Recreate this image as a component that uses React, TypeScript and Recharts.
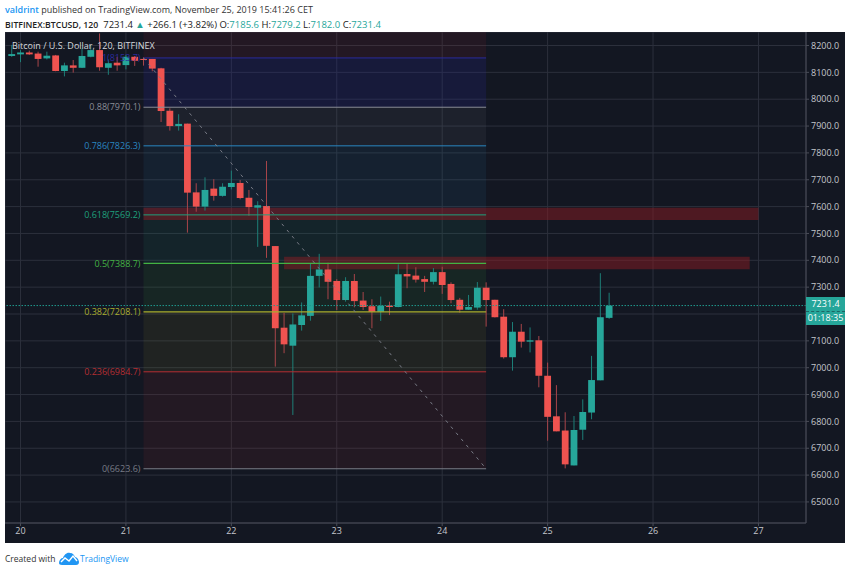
import React from 'react';
import {
  ComposedChart,
  Bar,
  XAxis,
  YAxis,
  CartesianGrid,
  ReferenceArea,
  ReferenceLine,
  ReferenceDot,
} from 'recharts';

// 2h candles, slot 0 is Nov 20 00:00
const opens = [8161, 8167, 8174, 8170, 8152, 8163, 8105, 8126, 8117, 8158, 8183, 8117, 8136, 8127, 8158, 8150, 8150, 8115, 7957, 7900, 7909, 7653, 7600, 7667, 7640, 7673, 7688, 7633, 7596, 7602, 7453, 7149, 7082, 7159, 7193, 7342, 7366, 7323, 7252, 7323, 7250, 7229, 7208, 7231, 7226, 7349, 7343, 7330, 7320, 7356, 7312, 7253, 7216, 7224, 7298, 7253, 7190, 7039, 7134, 7097, 7102, 6970, 6819, 6766, 6636, 6769, 6833, 6953, 7185.6];
const highs = [8202, 8183, 8181, 8177, 8177, 8165, 8136, 8146, 8189, 8202, 8245, 8148, 8158, 8165, 8161, 8156, 8150, 8117, 7966, 7944, 7909, 7687, 7709, 7702, 7687, 7734, 7699, 7662, 7620, 7770, 7453, 7204, 7202, 7243, 7389, 7424, 7391, 7330, 7337, 7349, 7282, 7255, 7265, 7246, 7385, 7389, 7374, 7342, 7371, 7376, 7318, 7260, 7271, 7319, 7318, 7253, 7218, 7170, 7163, 7150, 7118, 7019, 6935, 6834, 6820, 6882, 7044, 7352, 7279.2];
const lows = [8158, 8138, 8165, 8121, 8148, 8104, 8085, 8099, 8116, 8156, 8106, 8091, 8106, 8111, 8124, 8125, 8104, 7915, 7883, 7883, 7503, 7581, 7585, 7622, 7637, 7664, 7627, 7566, 7450, 7409, 7004, 7054, 6824, 7138, 7175, 7299, 7255, 7215, 7246, 7225, 7215, 7147, 7174, 7196, 7225, 7296, 7317, 7282, 7310, 7275, 7240, 7205, 7215, 7216, 7153, 7187, 7034, 6989, 7075, 7057, 6927, 6728, 6763, 6625, 6636, 6731, 6808, 6953, 7182];
const closes = [8168, 8174, 8167, 8150, 8162, 8105, 8126, 8117, 8161, 8183, 8119, 8134, 8126, 8158, 8143, 8146, 8114, 7956, 7900, 7908, 7652, 7600, 7662, 7640, 7674, 7688, 7632, 7598, 7605, 7454, 7147, 7087, 7161, 7195, 7342, 7366, 7320, 7252, 7323, 7248, 7226, 7208, 7231, 7226, 7348, 7340, 7328, 7320, 7356, 7308, 7252, 7216, 7226, 7298, 7252, 7188, 7039, 7134, 7097, 7102, 6970, 6817, 6763, 6640, 6768, 6835, 6954, 7188, 7231.4];
const firstSlot = -1;

const dayTicks = [0, 12, 24, 36, 48, 60, 72, 84];
const dayLabels = ['20', '21', '22', '23', '24', '25', '26', '27'];
const priceTicks = [8200, 8100, 8000, 7900, 7800, 7700, 7600, 7500, 7400, 7300, 7200, 7100, 7000, 6900, 6800, 6700, 6600, 6500];
const hiddenPriceLabel = 7200; // sits behind the last price tag

const fibStart = 14;
const fibEnd = 53;
const fibLevels = [
  { name: '1', price: 8153.7, color: '#2a2a9c', band: '#2a2a9c', tint: 0.2, width: 1 },
  { name: '0.88', price: 7970.1, color: '#8a8d96', band: '#787b86', tint: 0.1, width: 1 },
  { name: '0.786', price: 7826.3, color: '#2a86c0', band: '#2a7fb5', tint: 0.1, width: 1 },
  { name: '0.618', price: 7569.2, color: '#1fa07c', band: '#1f9a78', tint: 0.1, width: 1 },
  { name: '0.5', price: 7388.7, color: '#43b343', band: '#3fae3f', tint: 0.1, width: 1.4 },
  { name: '0.382', price: 7208.1, color: '#aaad2e', band: '#a8ab2e', tint: 0.09, width: 1.4 },
  { name: '0.236', price: 6984.7, color: '#b52e32', band: '#b02c30', tint: 0.11, width: 1 },
  { name: '0', price: 6623.6, color: '#787b86', band: '', tint: 0, width: 1 },
];
const zones = [
  { from: 14, to: 84, low: 7550, high: 7596 },
  { from: 30, to: 83, low: 7367, high: 7413 },
];

const lastPrice = 7231.4;
const yMin = 6421.6;
const yMax = 8250.3;
const xMin = -1.764;
const xMax = 89.41;

const candles = opens.map((open, i) => ({
  slot: firstSlot + i,
  open,
  high: highs[i],
  low: lows[i],
  close: closes[i],
  range: [lows[i], highs[i]],
}));

function Candle({ x, y, width, height, payload }: any) {
  const { open, close, high, low } = payload;
  const up = close >= open;
  const k = height / (high - low);
  const top = y + (high - Math.max(open, close)) * k;
  const bodyH = Math.max(Math.abs(close - open) * k, 1);
  const cx = x + width / 2;
  return (
    <g>
      <line x1={cx} x2={cx} y1={y} y2={y + height} stroke={up ? '#1d7f78' : '#a8454a'} strokeWidth={1} />
      <rect x={x} y={top} width={width} height={bodyH} fill={up ? '#26a69a' : '#ef5350'} />
    </g>
  );
}

function Logo() {
  return (
    <svg width="20" height="13" viewBox="0 0 20 13" style={{ position: 'absolute', left: 59, top: 552 }}>
      <path d="M0 11 C0 8 2 6 4 6 C5 3 8 0 11 1 C14 1 15 3 16 5 C18 5 20 8 20 10 C20 12 19 13 17 13 L3 13 C1 13 0 12 0 11 Z" fill="#2196f3" />
      <path d="M2 10 L6 6 L10 9 L14 4 L18 9" fill="none" stroke="#fff" strokeWidth="1.4" />
    </svg>
  );
}

export default function App() {
  const font = '"Open Sans", sans-serif';
  return (
    <div style={{ position: 'absolute', left: 0, top: 0, width: 850, height: 571, background: '#fff', fontFamily: font, overflow: 'hidden' }}>
      {/* Header */}
      <div style={{ position: 'absolute', left: 5, top: 3, fontSize: 9, color: '#333', whiteSpace: 'nowrap' }}>
        <span style={{ color: '#2196f3', fontWeight: 600 }}>valdrint</span> published on TradingView.com, November 25, 2019 15:41:26 CET
      </div>
      <div style={{ position: 'absolute', left: 5, top: 18, fontSize: 9.5, color: '#222', whiteSpace: 'nowrap' }}>
        <span style={{ fontWeight: 600, fontSize: 8.7 }}>BITFINEX:BTCUSD, 120</span>&nbsp; 7231.4 <span style={{ color: '#26a69a' }}>▲</span> +266.1 (+3.82%) O:<span style={{ color: '#26a69a' }}>7185.6</span> H:<span style={{ color: '#26a69a' }}>7279.2</span> L:<span style={{ color: '#26a69a' }}>7182.0</span> C:<span style={{ color: '#26a69a' }}>7231.4</span>
      </div>

      {/* Chart */}
      <div style={{ position: 'absolute', left: 5, top: 32, width: 840, height: 511, background: '#131722' }}>
        <ComposedChart width={840} height={511} data={candles} margin={{ top: 0, right: 0, bottom: 0, left: 0 }} style={{ fontFamily: font }}>
          <XAxis
            dataKey="slot"
            type="number"
            domain={[xMin, xMax]}
            ticks={dayTicks}
            allowDataOverflow
            height={20}
            stroke="#4a4d58"
            tick={{ fill: '#c4c6cc', fontSize: 9 }}
            tickSize={3}
            tickFormatter={(v: number) => dayLabels[dayTicks.indexOf(v)]}
          />
          <YAxis
            orientation="right"
            type="number"
            domain={[yMin, yMax]}
            ticks={priceTicks}
            allowDataOverflow
            width={39}
            stroke="#4a4d58"
            tick={{ fill: '#c4c6cc', fontSize: 9 }}
            tickSize={3}
            interval={0}
            tickFormatter={(v: number) => (v === hiddenPriceLabel ? '' : v.toFixed(1))}
          />
          <CartesianGrid stroke="#2c303c" strokeWidth={1} />
          <ReferenceArea x1={fibStart} x2={fibEnd} y1={fibLevels[0].price} y2={yMax} fill="#b02c30" fillOpacity={0.1} stroke="none" />
          {fibLevels.slice(0, -1).map((lvl, i) => (
            <ReferenceArea key={lvl.name} x1={fibStart} x2={fibEnd} y1={fibLevels[i + 1].price} y2={lvl.price} fill={lvl.band} fillOpacity={lvl.tint} stroke="none" />
          ))}
          {zones.map((z) => (
            <ReferenceArea key={z.low} x1={z.from} x2={z.to} y1={z.low} y2={z.high} fill="#8a1c22" fillOpacity={0.5} stroke="none" />
          ))}
          {fibLevels.map((lvl) => (
            <ReferenceLine
              key={lvl.name}
              segment={[{ x: fibStart, y: lvl.price }, { x: fibEnd, y: lvl.price }]}
              stroke={lvl.color}
              strokeWidth={lvl.width}
            />
          ))}
          {fibLevels.map((lvl) => (
            <ReferenceDot
              key={lvl.name}
              x={fibStart}
              y={lvl.price}
              r={0}
              fill="none"
              stroke="none"
              label={{ value: `${lvl.name}(${lvl.price.toFixed(1)})`, position: 'left', fill: lvl.color, fontSize: 9, offset: 3 }}
            />
          ))}
          <ReferenceLine
            segment={[{ x: fibStart, y: fibLevels[0].price }, { x: fibEnd, y: fibLevels[7].price }]}
            stroke="#787b86"
            strokeDasharray="3 5"
          />
          <ReferenceLine y={lastPrice} stroke="#1f9a8e" strokeDasharray="1.5 1.5" />
          <Bar dataKey="range" barSize={6.8} shape={<Candle />} isAnimationActive={false} />
        </ComposedChart>

        <div style={{ position: 'absolute', left: 7, top: 7, fontSize: 9, color: '#d6d8dd', whiteSpace: 'nowrap' }}>
          Bitcoin / U.S. Dollar, 120, BITFINEX
        </div>
        {/* Last price tag */}
        <div style={{ position: 'absolute', left: 801, top: 265, width: 39, height: 28, background: '#26a69a', color: '#fff', fontSize: 9, textAlign: 'center', lineHeight: '14px' }}>
          7231.4
          <br />
          01:18:35
          <div style={{ position: 'absolute', left: 0, right: 0, top: 14, borderTop: '1px dashed rgba(19,23,34,0.45)' }} />
        </div>
      </div>

      {/* Footer */}
      <div style={{ position: 'absolute', left: 5, top: 553, fontSize: 8.5, color: '#333' }}>Created with</div>
      <Logo />
      <div style={{ position: 'absolute', left: 80, top: 553, fontSize: 8.5, color: '#2196f3' }}>TradingView</div>
    </div>
  );
}
